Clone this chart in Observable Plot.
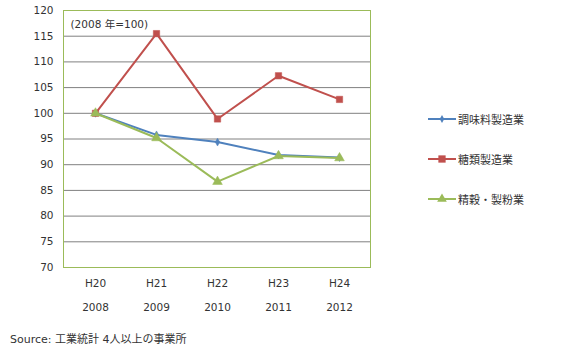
<!DOCTYPE html>
<html><head><meta charset="utf-8">
<script src="https://cdn.jsdelivr.net/npm/d3@7"></script>
<script src="https://cdn.jsdelivr.net/npm/@observablehq/plot@0.6"></script>
<style>
body{margin:0;background:#fff;font-family:"DejaVu Sans","Noto Sans CJK JP",sans-serif;}
#wrap{position:relative;width:569px;height:352px;}
#legend{position:absolute;left:428px;top:0;font-size:11px;color:#333;}
.item{position:absolute;left:0;white-space:nowrap;display:flex;align-items:center;}
.item svg{margin-right:2px;}
#source{position:absolute;left:10px;top:330px;font-size:11px;color:#333;white-space:nowrap;}
</style></head>
<body><div id="wrap"><div id="chart"></div><div id="legend"></div><div id="source"></div></div>
<script>
const eraLabels = ["H20","H21","H22","H23","H24"];
const years = ["2008","2009","2010","2011","2012"];
const seriesNames = ["調味料製造業","糖類製造業","精穀・製粉業"];
const seasoning = [100, 95.8, 94.4, 91.9, 91.4];
const sugar = [100, 115.5, 98.9, 107.3, 102.7];
const grain = [100, 95.2, 86.7, 91.7, 91.3];
const yTicks = [70,75,80,85,90,95,100,105,110,115,120];
const colors = ["#4f81bd","#c0504d","#9bbb59"];
const symbols = ["diamond","square","triangle"];
const radii = [2.4, 3.6, 3.6];
const note = "(2008 年=100)";
const sourceText = "Source: 工業統計 4人以上の事業所";

const allSeries = [seasoning, sugar, grain];
const rows = allSeries.flatMap((vals, s) => vals.map((v, i) => ({series: seriesNames[s], era: eraLabels[i], year: years[i], value: v})));
const yearOf = Object.fromEntries(eraLabels.map((e,i)=>[e, years[i]]));

const marks = [
  Plot.ruleY(yTicks.filter(t => t > 70 && t < 120), {stroke: "#808080", strokeWidth: 1}),
  Plot.frame({stroke: "#9bbb59", strokeWidth: 1}),
  Plot.axisY({ticks: yTicks, tickSize: 0, tickPadding: 10, fontSize: 10.5, color: "#333", label: null}),
  Plot.axisX({tickSize: 0, tickPadding: 12, fontSize: 10.5, color: "#333", label: null}),
  Plot.axisX({tickSize: 0, tickPadding: 36, fontSize: 10.5, color: "#333", label: null, tickFormat: d => yearOf[d]}),
  Plot.text([note], {frameAnchor: "top-left", dx: 7, dy: 10, text: d => d, fontSize: 10.5, fill: "#333", textAnchor: "start"})
];
seriesNames.forEach((name, s) => {
  const data = rows.filter(r => r.series === name);
  marks.push(Plot.line(data, {x: "era", y: "value", stroke: colors[s], strokeWidth: 2}));
  marks.push(Plot.dot(data, {x: "era", y: "value", fill: colors[s], stroke: colors[s], strokeWidth: 0.5, symbol: symbols[s], r: radii[s]}));
});

const chart = Plot.plot({
  width: 569, height: 352,
  marginLeft: 63, marginRight: 199, marginTop: 10, marginBottom: 85,
  style: {fontFamily: '"DejaVu Sans","Noto Sans CJK JP",sans-serif', background: "#fff"},
  x: {type: "point", domain: eraLabels, padding: 0.5},
  y: {domain: [70, 120]},
  marks
});
document.getElementById("chart").appendChild(chart);

const legend = document.getElementById("legend");
const tops = [111, 151, 191];
seriesNames.forEach((name, s) => {
  const div = document.createElement("div");
  div.className = "item";
  div.style.top = tops[s] + "px";
  const sym = d3.symbol(d3[{diamond:"symbolDiamond",square:"symbolSquare",triangle:"symbolTriangle"}[symbols[s]]], Math.PI*radii[s]*radii[s]*(s===1?1.3:1))();
  div.innerHTML = `<svg width="28" height="12"><line x1="0" x2="28" y1="6" y2="6" stroke="${colors[s]}" stroke-width="2"/><path transform="translate(14,6)" d="${sym}" fill="${colors[s]}"/></svg><span>${name}</span>`;
  legend.appendChild(div);
});
document.getElementById("source").textContent = sourceText;
</script></body></html>
